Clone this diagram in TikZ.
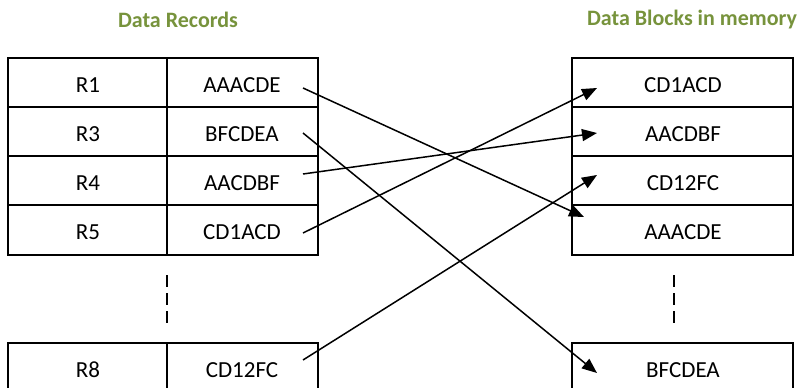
\documentclass[tikz,border=0pt]{standalone}
\usepackage{fontspec}
\setmainfont{Carlito}
\usetikzlibrary{arrows.meta}
\definecolor{titlegreen}{HTML}{77933C}
\tikzset{
  tbl/.style={draw=black, line width=1.8pt},
  cell/.style={font=\fontsize{23}{25}\selectfont, text=black, inner sep=0pt},
  ttl/.style={font=\fontsize{22}{24}\selectfont\bfseries, text=titlegreen, inner sep=0pt},
  gap/.style={draw=black, line width=1.8pt, dash pattern=on 12pt off 6pt},
  link/.style={draw=black, line width=1.5pt, -{Triangle[length=15pt,width=12pt]}}
}
\begin{document}
\begin{tikzpicture}[x=1pt,y=-1pt]
\useasboundingbox (0,0) rectangle (807,388);
\clip (0,0) rectangle (807,388);
% titles
\node[ttl] (t1) at (178,20) {Data Records};
\node[ttl] (t2) at (692,20) {Data Blocks in memory};
% left table
\draw[tbl] (8,58) rectangle (318,255);
\draw[tbl] (8,107) -- (318,107) (8,156) -- (318,156) (8,205) -- (318,205);
\draw[tbl] (167,58) -- (167,255);
\draw[tbl] (8,343) rectangle (318,400);
\draw[tbl] (167,343) -- (167,400);
\draw[gap] (167,275) -- (167,323);
% right table
\draw[tbl] (572,58) rectangle (793,255);
\draw[tbl] (572,107) -- (793,107) (572,156) -- (793,156) (572,205) -- (793,205);
\draw[tbl] (572,343) rectangle (793,400);
\draw[gap] (674,275) -- (674,323);
% left cells
\node[cell] (r1) at (88,85) {R1};
\node[cell] (r3) at (88,134) {R3};
\node[cell] (r4) at (88,183) {R4};
\node[cell] (r5) at (88,232) {R5};
\node[cell] (r8) at (88,370) {R8};
\node[cell] (l1) at (242,85) {AAACDE};
\node[cell] (l3) at (242,134) {BFCDEA};
\node[cell] (l4) at (242,183) {AACDBF};
\node[cell] (l5) at (242,232) {CD1ACD};
\node[cell] (l8) at (242,370) {CD12FC};
% right cells
\node[cell] (b1) at (683,85) {CD1ACD};
\node[cell] (b2) at (683,134) {AACDBF};
\node[cell] (b3) at (683,183) {CD12FC};
\node[cell] (b4) at (683,232) {AAACDE};
\node[cell] (b8) at (683,370) {BFCDEA};
% connector endpoints
\coordinate (s1) at (303,88);
\coordinate (s3) at (303,133);
\coordinate (s4) at (303,174);
\coordinate (s5) at (303,233);
\coordinate (s8) at (303,360);
\coordinate (e1) at (597,88);
\coordinate (e2) at (597,133);
\coordinate (e3) at (597,175);
\coordinate (e4) at (584,217);
\coordinate (e8) at (597,373);
% connectors
\draw[link] (s1) -- (e4);
\draw[link] (s3) -- (e8);
\draw[link] (s4) -- (e2);
\draw[link] (s5) -- (e1);
\draw[link] (s8) -- (e3);
\end{tikzpicture}
\end{document}
